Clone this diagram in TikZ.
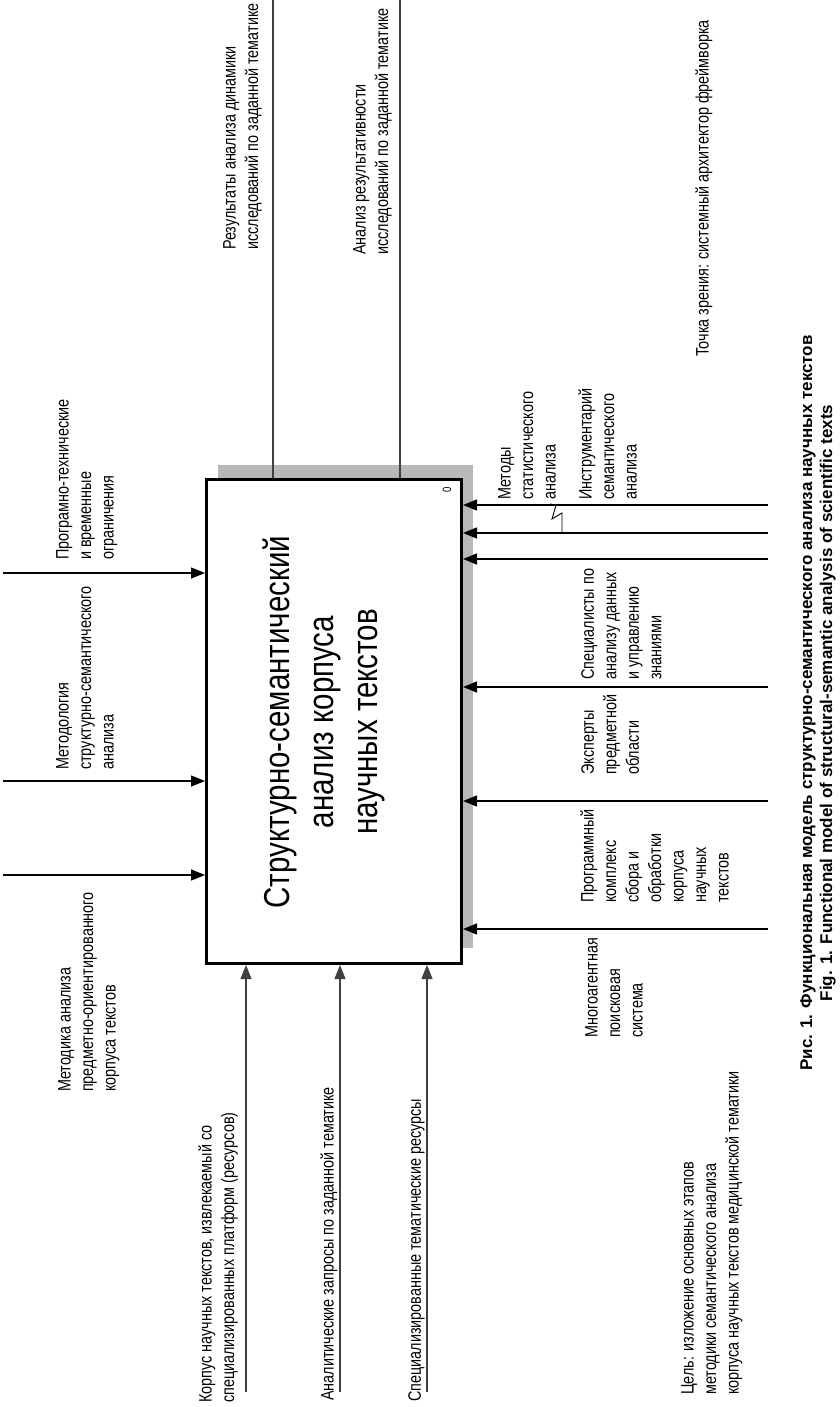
\documentclass[tikz,border=0pt]{standalone}
\usepackage{fontspec}
\setmainfont{Liberation Sans}[FakeStretch=0.80]
\newfontfamily\capfont{Liberation Sans}
\newfontfamily\titlefont{Liberation Sans}[FakeStretch=0.82]
\usetikzlibrary{arrows.meta}
\definecolor{shadowgray}{HTML}{B8B8B8}
\definecolor{linegray}{HTML}{404040}
\begin{document}
\begin{tikzpicture}[x=1pt,y=-1pt,
  lbl/.style={rotate=90, anchor=north west, align=left, inner sep=0pt, font=\fontsize{18}{22.5}\selectfont},
  arr/.style={-{Triangle[length=14pt,width=11pt]}, line width=1.4pt},
  outline/.style={line width=1.6pt, draw=linegray},
  inarr/.style={-{Triangle[length=14pt,width=11pt]}, line width=1.1pt, draw=linegray, fill=black}]
\useasboundingbox (0,0) rectangle (839,1407);
% shadow and box
\fill[shadowgray] (218,465) rectangle (473,948);
\node[draw, line width=3pt, fill=white, minimum width=255pt, minimum height=484pt, inner sep=0pt, anchor=north west] (box) at (205,478) {};
\node[rotate=90, align=center, font=\titlefont\fontsize{36}{44}\selectfont] (title) at (324,722) {Структурно-семантический\\анализ корпуса\\научных текстов};
\node[rotate=90, inner sep=0pt, font=\fontsize{12}{12}\selectfont] (num) at (447,490) {0};
% free ends
\coordinate (l1) at (3,573); \coordinate (l2) at (3,781); \coordinate (l3) at (3,875);
\coordinate (r1) at (768,505); \coordinate (r2) at (768,533); \coordinate (r3) at (768,559);
\coordinate (r4) at (768,687); \coordinate (r5) at (768,801); \coordinate (r6) at (768,929);
\coordinate (t1) at (273,0); \coordinate (t2) at (400,0);
\coordinate (b1) at (246,1392); \coordinate (b2) at (340,1392); \coordinate (b3) at (427,1392);
% connectors
\foreach \c in {l1,l2,l3} \draw[arr] (\c) -- (\c -| box.west);
\foreach \c in {r1,r2,r3,r4,r5,r6} \draw[arr] (\c) -- (\c -| box.east);
\foreach \c in {t1,t2} \draw[outline] (box.north -| \c) -- (\c);
\foreach \c in {b1,b2,b3} \draw[inarr] (\c) -- (\c |- box.south);
% labels
\node[lbl] (o1lbl) at (223,250) {Результаты анализа динамики\\исследований по заданной тематике};
\node[lbl] (o2lbl) at (353,255) {Анализ результативности\\исследований по заданной тематике};
\node[lbl] (view) at (695,357) {Точка зрения: системный архитектор фреймворка};
\node[lbl] (m1lbl) at (498,500) {Методы\\статистического\\анализа};
\node[lbl] (m2lbl) at (578,500) {Инструментарий\\семантического\\анализа};
\node[lbl] (m4lbl) at (581,680) {Специалисты по\\анализу данных\\и управлению\\знаниями};
\node[lbl] (m5lbl) at (581,775) {Эксперты\\предметной\\области};
\node[lbl] (m6lbl) at (580,903) {Программный\\комплекс\\сбора и\\обработки\\корпуса\\научных\\текстов};
\node[lbl] (m7lbl) at (585,1038) {Многоагентная\\поисковая\\система};
\node[lbl] (goal) at (681,1395) {Цель: изложение основных этапов\\методики семантического анализа\\корпуса научных текстов медицинской тематики};
\node[lbl] (c1lbl) at (56,560) {Програмно-технические\\и временные\\ограничения};
\node[lbl] (c2lbl) at (56,770) {Методология\\структурно-семантического\\анализа};
\node[lbl] (c3lbl) at (58,1092) {Методика анализа\\предметно-ориентированного\\корпуса текстов};
\node[lbl] (i1lbl) at (198,1403) {Корпус научных текстов, извлекаемый со\\специализированных платформ (ресурсов)};
\node[lbl] (i2lbl) at (320,1401) {Аналитические запросы по заданной тематике};
\node[lbl] (i3lbl) at (408,1402) {Специализированные тематические ресурсы};
% squiggle from label to arrow
\coordinate (sq) at (550,504);
\draw[line width=0.9pt] (sq) -- (556,505) -- (552,519) -- (562,513) -- (r2 -| 562,0);
% caption
\node[rotate=90, align=center, font=\capfont\bfseries\fontsize{17}{20}\selectfont] (cap) at (818,703) {Рис. 1. Функциональная модель структурно-семантического анализа научных текстов\\Fig. 1. Functional model of structural-semantic analysis of scientific texts};
\end{tikzpicture}
\end{document}
